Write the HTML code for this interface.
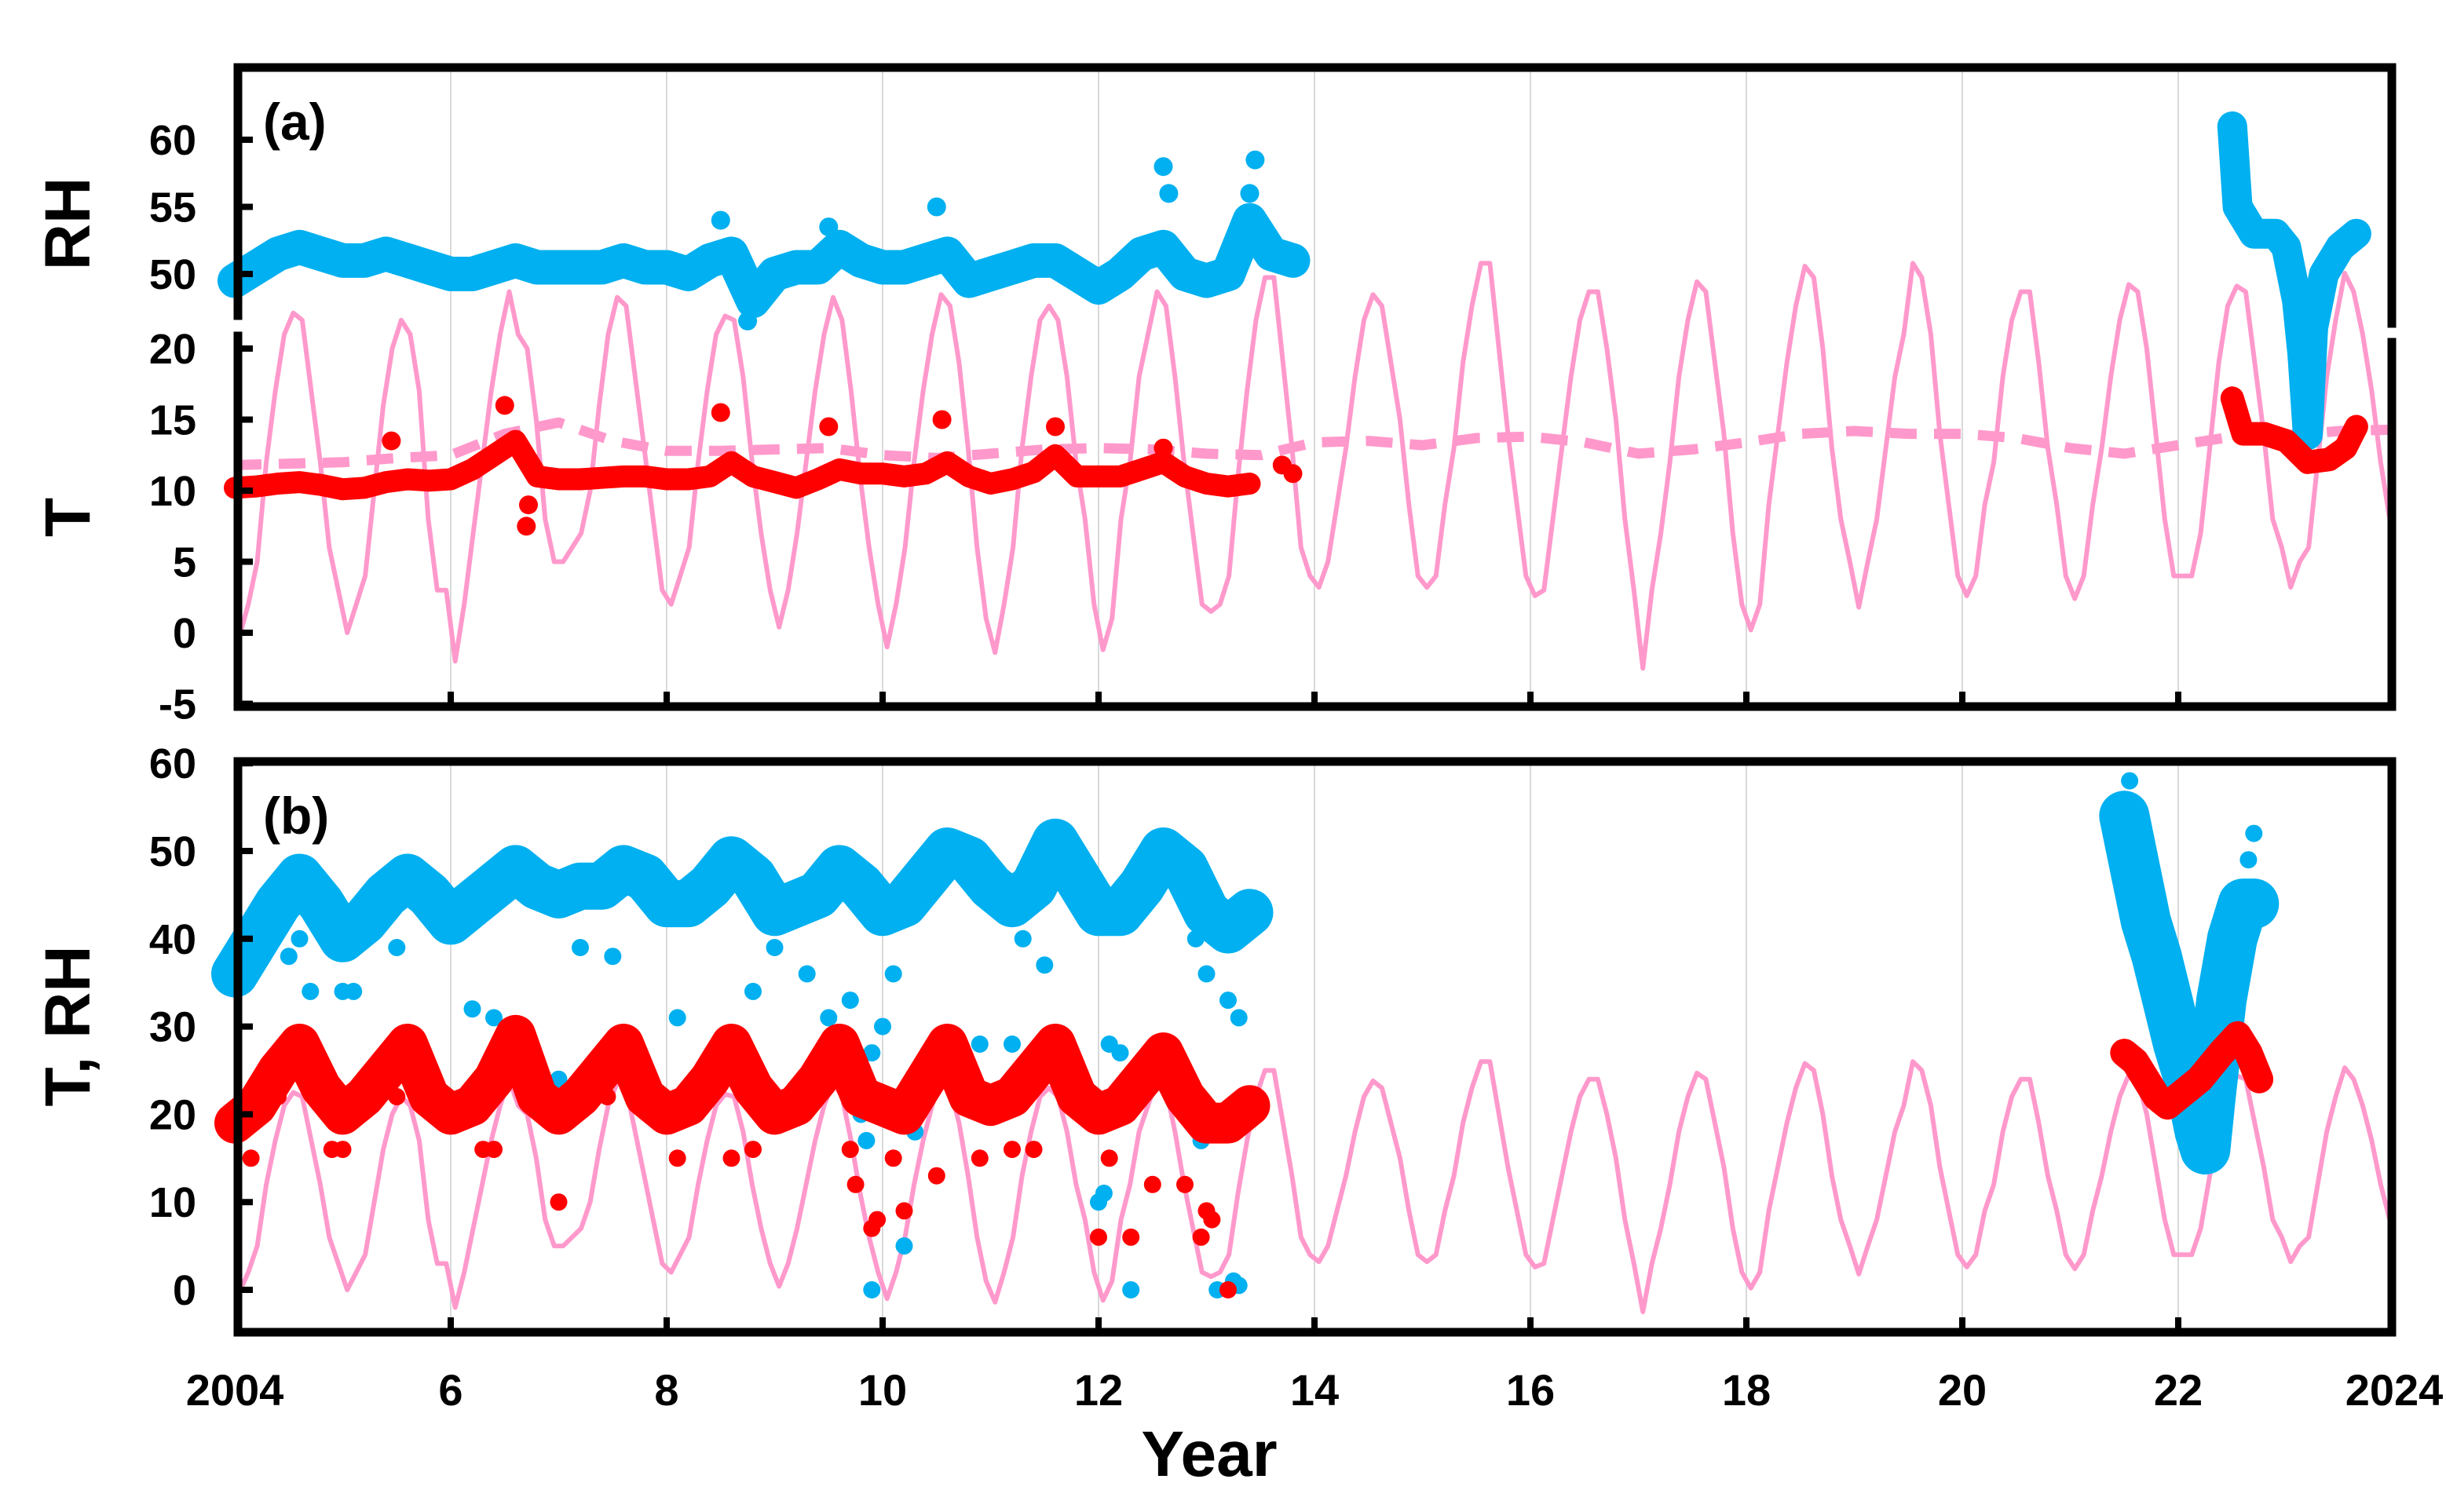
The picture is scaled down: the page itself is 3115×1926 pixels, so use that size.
<!DOCTYPE html>
<html><head><meta charset="utf-8"><style>
html,body{margin:0;padding:0;background:#fff}
svg{display:block}
text{font-family:"Liberation Sans",Arial,sans-serif;font-weight:bold;fill:#000}
</style></head>
<body>
<svg id="chart" xmlns="http://www.w3.org/2000/svg" width="3115" height="1926" viewBox="0 0 3115 1926">
<rect x="0" y="0" width="3115" height="1926" fill="#fff"/>
<g id="grid"></g>
<g id="marks"></g>
<g id="frames"></g>
<g id="labels"></g>
</svg>
<script>
// ---- data ----
const xTickYears = [2004,2006,2008,2010,2012,2014,2016,2018,2020,2022,2024];
const xTickLabels = ["2004","6","8","10","12","14","16","18","20","22","2024"];
const rhTicksA = [60,55,50];
const tTicksA = [20,15,10,5,0,-5];
const ticksB = [60,50,40,30,20,10,0];
// outdoor monthly temperature, 2004..2023 (12 months each)
const outdoorT = [
[-0.3,2,5,12,17,21,22.5,22,17,12,6,3],
[0,2,4,10,16,20,22,21,17,8,3,3],
[-2,2,7,12,17,21,24,21,20,15,8,5],
[5,6,7,10,16,21,23.6,23,18,13,8,3],
[2,4,6,12,17,21,22.3,22,18,12,7,3],
[0.4,3,7,12,17,21,23.6,22,17,11,6,2],
[-1,2,6,12,17,21,23.8,23,19,13,6,1],
[-1.4,2,6,13,18,22,23,22,18,12,8,2],
[-1.2,1,8,12,18,21,24,23,18,12,7,2],
[1.5,2,4,11,17,22,25,25,19,13,6,4],
[3.2,5,9,13,18,22,23.8,23,19,15,9,4],
[3.2,4,9,13,19,23,26,26,20,14,9,4],
[2.6,3,8,13,18,22,24,24,20,15,8,3],
[-2.5,3,7,12,18,22,24.7,24,19,14,7,2],
[0.2,2,9,14,19,23,25.8,25,20,13,8,5],
[1.8,5,8,13,18,21,26,25,21,14,9,4],
[2.6,4,9,12,18,22,24,24,19,13,9,4],
[2.4,4,9,13,18,22,24.5,24,20,14,8,4],
[4,4,7,13,19,23,24.4,24,19,14,8,6],
[3.2,5,6,12,18,22,25.3,24,21,17,12,8]];
const firstYear = 2004;
// running mean (dashed)
const avgYears = [2004,2004.5,2005,2005.5,2006,2006.5,2007,2007.5,2008,2008.5,2009,2009.5,2010,2010.5,2011,2011.5,2012,2012.5,2013,2013.5,2014,2014.5,2015,2015.5,2016,2016.5,2017,2017.5,2018,2018.5,2019,2019.5,2020,2020.5,2021,2021.5,2022,2022.5,2023,2023.5,2024];
const avgT = [11.8,11.9,12,12.3,12.5,14,14.8,13.5,12.8,12.8,12.9,13,12.5,12.3,12.6,12.9,13,12.9,12.6,12.5,13.4,13.5,13.2,13.7,13.8,13.4,12.6,12.9,13.4,14,14.2,14,14,13.7,13,12.6,13.2,13.8,13.9,14.2,14.3];
// panel a indoor RH (blue) 2004-2013.8 step 0.2
const rhA1 = [49.5,50.5,51.5,52,51.5, 51,51,51.5,51,50.5, 50,50,50.5,51,50.5, 50.5,50.5,50.5,51,50.5, 50.5,50,51,51.5,48, 50,50.5,50.5,52,51, 50.5,50.5,51,51.5,49.5, 50,50.5,51,51,50, 49,50,51.5,52,50, 49.5,50,54,51.5,51];
const rhA1Start = 2004, stepA = 0.2;
const rhA1SpikesX = [2012.6,2012.65,2013.45,2013.4,2008.5,2010.5,2009.5,2008.75];
const rhA1SpikesY = [58,56,58.5,56,54,55,53.5,46.5];
const rhA2X = [2022.5,2022.55,2022.7,2022.9,2023.0,2023.1,2023.15,2023.2,2023.25,2023.35,2023.5,2023.65];
const rhA2 = [61,55,53,53,52,48,44,38,46,50,52,53];
// panel a indoor T (red)
const tA1 = [10.2,10.3,10.5,10.6,10.4, 10.1,10.2,10.6,10.8,10.7, 10.8,11.5,12.5,13.5,11, 10.8,10.8,10.9,11,11, 10.8,10.8,11,12,11, 10.6,10.2,10.8,11.5,11.2, 11.2,11,11.2,12,11, 10.5,10.8,11.3,12.5,11, 11,11,11.5,12,11, 10.5,10.3,10.5];
const tA1SpikesX = [2005.45,2006.5,2006.7,2006.72,2008.5,2009.5,2010.55,2011.6,2012.6,2013.7,2013.8];
const tA1SpikesY = [13.5,16,7.5,9,15.5,14.5,15,14.5,13,11.8,11.2];
const tA2X = [2022.5,2022.6,2022.8,2023.0,2023.2,2023.4,2023.55,2023.65];
const tA2 = [16.5,14,14,13.5,12,12.2,13,14.5];
// panel b (blue RH, red T) 2004-2013.4 step 0.2
const rhB1 = [36,40,44,47,44, 40,42,45,47,45, 42,44,46,48,46, 45,46,46,48,47, 44,44,46,49,47, 43,44,45,48,46, 43,44,47,50,49, 46,44,46,51,47, 43,43,46,50,48, 43,41,43];
const tB1 = [19,21,25,28,23, 20,22,25,28,22, 20,21,24,29,22, 20,22,25,28,22, 20,21,24,28,23, 20,21,24,28,22, 21,20,24,28,22, 21,22,25,28,22, 20,21,24,27,22, 19,19,21];
const rhB2X = [2021.5,2021.6,2021.7,2021.8,2021.9,2022.0,2022.1,2022.2,2022.25,2022.3,2022.4,2022.5,2022.6,2022.7];
const rhB2 = [54,48,42,38,33,28,24,18,16,22,33,40,44,44];
const tB2X = [2021.5,2021.6,2021.7,2021.8,2021.9,2022.0,2022.2,2022.4,2022.55,2022.65,2022.75];
const tB2 = [27,26,24,22,21,22,24,27,29,27,24];
const rhBOutX = [2004.6,2004.7,2005.0,2005.1,2004.5,2005.5,2006.2,2006.4,2007.0,2007.2,2007.5,2008.1,2008.55,2008.8,2009.0,2009.3,2009.5,2009.7,2009.9,2010.0,2009.8,2009.85,2009.9,2010.1,2010.2,2010.3,2010.6,2010.9,2011.2,2011.3,2011.5,2012.0,2012.05,2012.1,2012.2,2012.3,2012.55,2012.9,2013.0,2013.1,2013.2,2013.3,2013.1,2013.25,2013.3,2012.65,2012.95,2021.55,2022.7,2022.65];
const rhBOutY = [40,34,34,34,38,39,32,31,24,39,38,31,28,34,39,36,31,33,27,30,20,17,0,36,5,18,29,28,28,40,37,10,11,28,27,0,25,40,36,19,33,31,0,1,0.5,26.5,17,58,52,49];
const tBOutX = [2004.15,2004.4,2004.9,2005.0,2005.5,2006.3,2006.4,2007.0,2006.9,2007.45,2008.1,2008.6,2008.8,2009.7,2009.75,2009.9,2009.95,2010.1,2010.2,2010.5,2010.9,2011.2,2011.4,2012.0,2012.1,2012.3,2012.5,2012.8,2013.0,2013.05,2012.95,2013.2];
const tBOutY = [15,22,16,16,22,16,16,10,22,22,15,15,16,16,12,7,8,15,9,13,15,16,16,6,15,6,12,12,9,8,6,0];

// ---- scales ----
const X = yr => 299 + (yr - 2004) * 137.5;
const YT = t => 806 - t * 18.1;
const YRH = r => 178 + (60 - r) * 17.1;
const YB = v => 1643 - v * 11.18;
const NS = "http://www.w3.org/2000/svg";
function mk(tag, parent){ const e = document.createElementNS(NS, tag); document.getElementById(parent).appendChild(e); return e; }

const BLUE = "#00b0f0", RED = "#ff0000", PINK = "#ff99cc";

// gridlines
xTickYears.slice(1,-1).forEach(yr => {
  [[86,900],[970,1697]].forEach(([y1,y2]) => {
    const l = mk("line","grid");
    
    
    l.setAttribute("x1",X(yr)); l.setAttribute("x2",X(yr));
    l.setAttribute("y1",y1); l.setAttribute("y2",y2);
    l.setAttribute("stroke","#d9d9d9"); l.setAttribute("stroke-width","2");
  });
});

function polyline(xs, ys, color, width, name, dash){
  const p = mk("polyline","marks");
  
  
  p.setAttribute("points", xs.map((x,i)=>x.toFixed(1)+","+ys[i].toFixed(1)).join(" "));
  p.setAttribute("fill","none"); p.setAttribute("stroke",color);
  p.setAttribute("stroke-width",width); p.setAttribute("stroke-linejoin","round"); p.setAttribute("stroke-linecap","round");
  if (dash) { p.setAttribute("stroke-dasharray", dash); p.setAttribute("stroke-linecap","butt"); }
  return p;
}
function dots(xs, ys, color, r, name){
  xs.forEach((x,i)=>{
    const c = mk("circle","marks");
    
    
    c.setAttribute("cx",x.toFixed(1)); c.setAttribute("cy",ys[i].toFixed(1)); c.setAttribute("r",r); c.setAttribute("fill",color);
  });
}

// outdoor monthly series
const mX = [], mV = [];
outdoorT.forEach((row, yi) => row.forEach((v, m) => { mX.push(X(firstYear + yi + (m + 0.5) / 12)); mV.push(v); }));
polyline(mX, mV.map(YT), PINK, 6, "outdoor-temperature-line-a");
polyline(mX, mV.map(YB), PINK, 6, "outdoor-temperature-line-b");
polyline(avgYears.map(X), avgT.map(YT), PINK, 13, "outdoor-mean-dashed-line", "34 22");

const seqX = (arr, start, step) => arr.map((_,i)=>X(start + i*step));

// panel a
polyline(seqX(rhA1,rhA1Start,stepA), rhA1.map(YRH), BLUE, 44, "rh-band-a-early");
dots(rhA1SpikesX.map(X), rhA1SpikesY.map(YRH), BLUE, 12, "rh-spike-a");
polyline(rhA2X.map(X), rhA2.map(YRH), BLUE, 38, "rh-band-a-late");
polyline(seqX(tA1,2004,stepA), tA1.map(YT), RED, 28, "t-band-a-early");
dots(tA1SpikesX.map(X), tA1SpikesY.map(YT), RED, 12, "t-spike-a");
polyline(tA2X.map(X), tA2.map(YT), RED, 30, "t-band-a-late");

// panel b
polyline(seqX(rhB1,2004,stepA), rhB1.map(YB), BLUE, 60, "rh-band-b-early");
polyline(rhB2X.map(X), rhB2.map(YB), BLUE, 64, "rh-band-b-late");
dots(rhBOutX.map(X), rhBOutY.map(YB), BLUE, 11, "rh-outlier-b");
polyline(seqX(tB1,2004,stepA), tB1.map(YB), RED, 52, "t-band-b-early");
polyline(tB2X.map(X), tB2.map(YB), RED, 36, "t-band-b-late");
dots(tBOutX.map(X), tBOutY.map(YB), RED, 11, "t-outlier-b");

// frames
function line(x1,y1,x2,y2,w,name){
  const l = mk("line","frames");
  
  
  l.setAttribute("x1",x1); l.setAttribute("y1",y1); l.setAttribute("x2",x2); l.setAttribute("y2",y2);
  l.setAttribute("stroke","#000"); l.setAttribute("stroke-width",w); l.setAttribute("stroke-linecap","square");
}
line(303,86,3046,86,11,"panel-a-top-border");
line(303,900,3046,900,11,"panel-a-x-axis");
line(303,86,303,402,11,"panel-a-rh-axis");
line(303,428,303,900,11,"panel-a-t-axis");
line(3046,86,3046,412,11,"panel-a-right-border-top");
line(3046,436,3046,900,11,"panel-a-right-border-bottom");
line(303,970,3046,970,11,"panel-b-top-border");
line(303,1697,3046,1697,11,"panel-b-x-axis");
line(303,970,303,1697,11,"panel-b-y-axis");
line(3046,970,3046,1697,11,"panel-b-right-border");
rhTicksA.forEach(v=>line(303,YRH(v),318,YRH(v),8,"y-tick"));
tTicksA.forEach(v=>line(303,YT(v),318,YT(v),8,"y-tick"));
ticksB.forEach(v=>line(303,YB(v),318,YB(v),8,"y-tick"));
xTickYears.slice(1,-1).forEach(yr=>{ line(X(yr),885,X(yr),900,8,"x-tick"); line(X(yr),1682,X(yr),1697,8,"x-tick"); });

// labels
function text(str,x,y,size,anchor,name,rot){
  const t = mk("text","labels");
  
  
  t.setAttribute("x",x); t.setAttribute("y",y); t.setAttribute("font-size",size);
  t.setAttribute("text-anchor",anchor);
  if (rot) t.setAttribute("transform","rotate(-90 "+x+" "+y+")");
  t.textContent = str;
}
rhTicksA.forEach(v=>text(String(v),250,YRH(v)+19,54,"end","y-tick-label"));
tTicksA.forEach(v=>text(String(v),250,YT(v)+19,54,"end","y-tick-label"));
ticksB.forEach(v=>text(String(v),250,YB(v)+19,54,"end","y-tick-label"));
xTickYears.forEach((yr,i)=>text(xTickLabels[i],X(yr),1790,56,"middle","x-tick-label"));
text("Year",1540,1880,82,"middle","x-axis-title");
text("RH",114,285,82,"middle","y-axis-title-rh",true);
text("T",114,659,82,"middle","y-axis-title-t",true);
text("T, RH",114,1307,82,"middle","y-axis-title-b",true);
text("(a)",335,178,66,"start","panel-a-label");
text("(b)",335,1062,66,"start","panel-b-label");
</script>
</body></html>
